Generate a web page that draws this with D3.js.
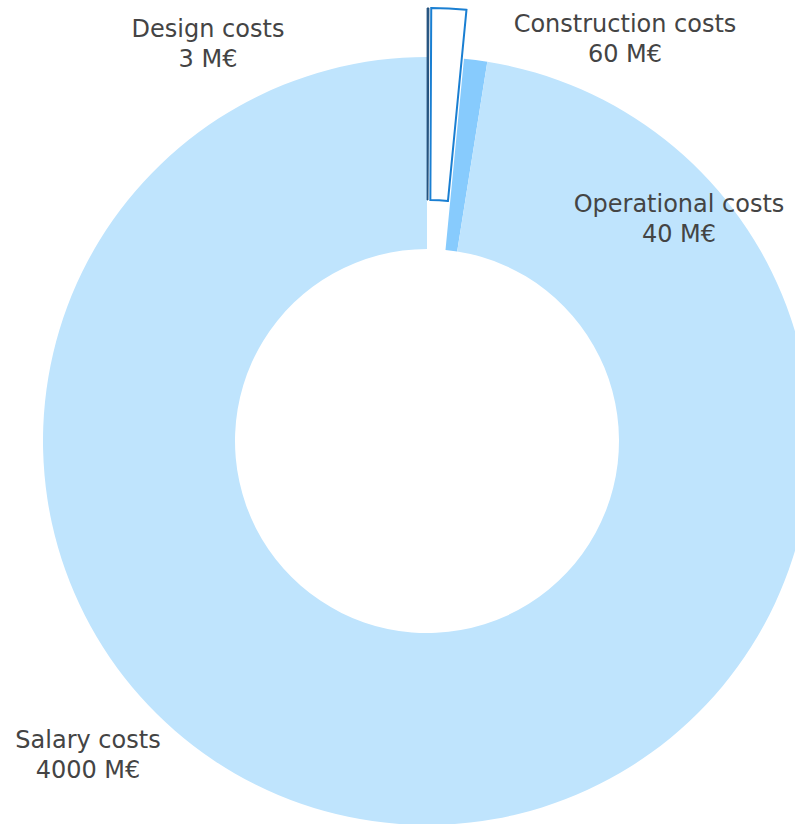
<!DOCTYPE html>
<html>
<head>
    <title>Cost breakdown donut</title>
    <script src="https://d3js.org/d3.v7.min.js"></script>
    <style>
        body { margin: 0; background: #fff; }
        svg { display: block; }
    </style>
</head>
<body>
    <div id="chart"></div>

    <script>
        // data
        var categories = ["Design costs", "Construction costs", "Operational costs", "Salary costs"];
        var values = [3, 60, 40, 4000];
        var valueLabels = ["3 M€", "60 M€", "40 M€", "4000 M€"];
        var pulled = [true, true, false, false];

        // styles
        var fills = ["#1f4f7c", "#ffffff", "#87cbfd", "#bfe4fd"];
        var strokes = ["#1f4f7c", "#1a7fd2", "none", "none"];
        var strokeW = [1, 2, 0, 0];

        // label anchors (centre x, first baseline y)
        var labelPos = [[208, 37], [625, 32], [679, 212], [88, 748]];

        var width = 795, height = 824;
        var cx = 427, cy = 441;
        var outerR = 384, innerR = 192;
        var pullDist = 49;

        var svg = d3.select("#chart")
            .append("svg")
            .attr("width", width)
            .attr("height", height);

        var pie = d3.pie().sort(null).startAngle(0).endAngle(2 * Math.PI);
        var arcs = pie(values);

        var arc = d3.arc().innerRadius(innerR).outerRadius(outerR);

        var g = svg.append("g")
            .attr("transform", "translate(" + cx + "," + cy + ")");

        // draw unpulled slices first so pulled ones sit on top
        var order = d3.range(values.length).sort(function(a, b) {
            return (pulled[a] ? 1 : 0) - (pulled[b] ? 1 : 0);
        });

        g.selectAll("path.slice")
            .data(order)
            .enter()
            .append("path")
            .attr("class", "slice")
            .attr("d", function(i) { return arc(arcs[i]); })
            .attr("transform", function(i) {
                if (!pulled[i]) return null;
                var mid = (arcs[i].startAngle + arcs[i].endAngle) / 2;
                return "translate(" + (Math.sin(mid) * pullDist) + "," + (-Math.cos(mid) * pullDist) + ")";
            })
            .attr("fill", function(i) { return fills[i]; })
            .attr("stroke", function(i) { return strokes[i]; })
            .attr("stroke-width", function(i) { return strokeW[i]; });

        // labels
        var labels = svg.selectAll("text.lbl")
            .data(categories)
            .enter()
            .append("text")
            .attr("class", "lbl")
            .attr("text-anchor", "middle")
            .attr("font-family", "Verdana, 'DejaVu Sans', sans-serif")
            .attr("font-size", 24)
            .attr("fill", "#444")
            .attr("transform", function(d, i) {
                return "translate(" + labelPos[i][0] + "," + labelPos[i][1] + ")";
            });

        labels.append("tspan")
            .attr("x", 0).attr("y", 0)
            .text(function(d) { return d; });

        labels.append("tspan")
            .attr("x", 0).attr("y", 30)
            .text(function(d, i) { return valueLabels[i]; });
    </script>
</body>
</html>
